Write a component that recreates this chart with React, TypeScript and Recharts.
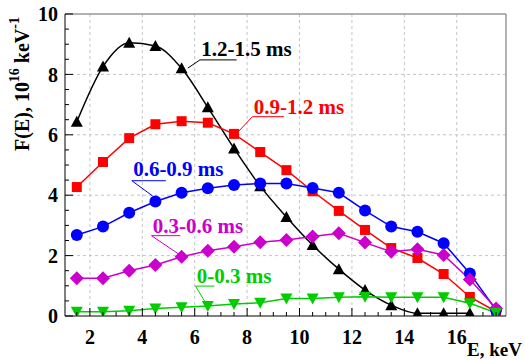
import React from "react"
import {
  LineChart,
  Line,
  XAxis,
  YAxis,
  CartesianGrid,
  ReferenceLine,
  ReferenceDot,
} from "recharts"

// energy bins, keV
const E = [1.5, 2.5, 3.5, 4.5, 5.5, 6.5, 7.5, 8.5, 9.5, 10.5, 11.5, 12.5, 13.5, 14.5, 15.5, 16.5, 17.5]

// F(E), 10^16 keV^-1, one array per time window
const t12_15 = [6.43, 8.26, 9.05, 8.94, 8.2, 6.91, 5.55, 4.3, 3.28, 2.35, 1.55, 0.86, 0.36, 0.09, 0.09, 0.09, null]
const t09_12 = [4.27, 5.1, 5.89, 6.35, 6.45, 6.4, 6.03, 5.43, 4.83, 4.13, 3.48, 2.85, 2.25, 1.92, 1.39, 0.63, 0.15]
const t06_09 = [2.68, 2.96, 3.42, 3.79, 4.08, 4.23, 4.34, 4.39, 4.39, 4.24, 4.08, 3.49, 2.96, 2.79, 2.41, 1.41, 0.2]
const t03_06 = [1.25, 1.25, 1.5, 1.69, 1.96, 2.16, 2.29, 2.44, 2.52, 2.63, 2.74, 2.43, 2.13, 2.21, 2.02, 1.21, 0.25]
const t00_03 = [0.14, 0.14, 0.17, 0.25, 0.29, 0.33, 0.4, 0.44, 0.58, 0.58, 0.62, 0.64, 0.62, 0.62, 0.62, 0.42, 0.11]

const X_TICKS = [2, 4, 6, 8, 10, 12, 14, 16]
const X_ALL = [1.5, 2, 2.5, 3, 3.5, 4, 4.5, 5, 5.5, 6, 6.5, 7, 7.5, 8, 8.5, 9, 9.5, 10, 10.5, 11, 11.5, 12, 12.5, 13, 13.5, 14, 14.5, 15, 15.5, 16, 16.5, 17, 17.5]
const Y_TICKS = [0, 2, 4, 6, 8, 10]
const Y_ALL = [0, 0.5, 1, 1.5, 2, 2.5, 3, 3.5, 4, 4.5, 5, 5.5, 6, 6.5, 7, 7.5, 8, 8.5, 9, 9.5, 10]

const X_DOMAIN = [1.05, 17.88]
const FONT = "Liberation Serif, Times New Roman, DejaVu Serif, serif"

const SERIES = [
  { key: "a", label: "1.2-1.5 ms", values: t12_15, color: "#000000", shape: "up", curve: "monotone" },
  { key: "b", label: "0.9-1.2 ms", values: t09_12, color: "#ff0000", shape: "square", curve: "linear" },
  { key: "c", label: "0.6-0.9 ms", values: t06_09, color: "#0000ff", shape: "circle", curve: "linear" },
  { key: "d", label: "0.3-0.6 ms", values: t03_06, color: "#cc00cc", shape: "diamond", curve: "linear" },
  { key: "e", label: "0-0.3 ms", values: t00_03, color: "#00cc00", shape: "down", curve: "linear" },
]

// label anchors in data units: text start, underline span, leader tip
const NOTES = [
  { key: "a", x: 6.25, y: 8.6, ulTo: 7.6, ulY: 8.48, tipX: 5.74, tipY: 8.21 },
  { key: "b", x: 8.25, y: 6.7, ulTo: 9.4, ulY: 6.6, tipX: 7.62, tipY: 6.06 },
  { key: "c", x: 3.65, y: 4.62, ulTo: 4.9, ulY: 4.48, tipX: 4.4, tipY: 3.97 },
  { key: "d", x: 4.4, y: 2.76, ulTo: 5.45, ulY: 2.66, tipX: 5.44, tipY: 2.02 },
  { key: "e", x: 6.08, y: 1.09, ulTo: 6.75, ulY: 0.99, tipX: 6.47, tipY: 0.36 },
]

const data = E.map((e, i) => {
  const row: Record<string, number | null> = { E: e }
  SERIES.forEach((s) => {
    row[s.key] = s.values[i]
  })
  return row
})

function Marker({ cx, cy, shape, color }: any) {
  if (cx == null || cy == null) return null
  if (shape === "up") {
    return <path d={`M${cx},${cy - 6} L${cx + 6},${cy + 5} L${cx - 6},${cy + 5} Z`} fill={color} />
  }
  if (shape === "down") {
    return <path d={`M${cx},${cy + 6} L${cx + 6},${cy - 5} L${cx - 6},${cy - 5} Z`} fill={color} />
  }
  if (shape === "square") {
    return <rect x={cx - 5} y={cy - 5} width={10} height={10} fill={color} />
  }
  if (shape === "diamond") {
    return <path d={`M${cx},${cy - 7} L${cx + 7},${cy} L${cx},${cy + 7} L${cx - 7},${cy} Z`} fill={color} />
  }
  return <circle cx={cx} cy={cy} r={6} fill={color} />
}

const textStyle = { fontFamily: FONT, fontWeight: "bold", fontSize: 20 }

// x tick: label for majors, inward tick mark for all
function XTick({ x, y, payload }: any) {
  const v = payload.value
  const major = X_TICKS.includes(v)
  const axisY = y - 14
  return (
    <g>
      <line x1={x} x2={x} y1={axisY} y2={axisY - (major ? 8 : 4)} stroke="#000" strokeWidth={1} />
      {major && (
        <text x={x} y={y} dy="0.71em" textAnchor="middle" style={textStyle} fill="#000">
          {v}
        </text>
      )}
    </g>
  )
}

function YTick({ x, y, payload }: any) {
  const v = payload.value
  const major = Y_TICKS.includes(v)
  const axisX = x + 7
  return (
    <g>
      <line x1={axisX} x2={axisX + (major ? 8 : 4)} y1={y} y2={y} stroke="#000" strokeWidth={1} />
      {major && (
        <text x={x} y={y} dy="0.355em" textAnchor="end" style={textStyle} fill="#000">
          {v}
        </text>
      )}
    </g>
  )
}

function YLabel({ viewBox }: any) {
  const x = viewBox.x + 22
  const y = viewBox.y + 70
  return (
    <text
      x={x}
      y={y}
      transform={`rotate(-90 ${x} ${y})`}
      textAnchor="middle"
      dominantBaseline="central"
      style={textStyle}
      fill="#000"
    >
      F(E), 10<tspan dy={-8} fontSize={14}>16</tspan>
      <tspan dy={8}> keV</tspan>
      <tspan dy={-8} fontSize={14}>-1</tspan>
    </text>
  )
}

function XLabel({ viewBox }: any) {
  return (
    <text
      x={viewBox.x + viewBox.width + 16}
      y={viewBox.y + 40}
      textAnchor="end"
      style={{ ...textStyle, fontSize: 19 }}
      fill="#000"
    >
      E, keV
    </text>
  )
}

export default function App() {
  return (
    <div style={{ position: "absolute", left: 0, top: 0, width: 525, height: 360, background: "#fff" }}>
      <LineChart width={525} height={360} data={data} margin={{ top: 14, right: 19, bottom: 0, left: 0 }}>
        <CartesianGrid
          stroke="#c4c4c4"
          strokeDasharray="3 3"
          horizontalValues={[2, 4, 6, 8]}
          verticalValues={X_TICKS}
        />
        <XAxis
          dataKey="E"
          type="number"
          domain={X_DOMAIN}
          allowDataOverflow
          ticks={X_ALL}
          interval={0}
          tickLine={false}
          tickSize={0}
          tickMargin={14}
          height={44}
          axisLine={{ stroke: "#000" }}
          tick={<XTick />}
          label={<XLabel />}
        />
        <YAxis
          type="number"
          domain={[0, 10]}
          allowDataOverflow
          ticks={Y_ALL}
          interval={0}
          tickLine={false}
          tickSize={0}
          tickMargin={7}
          width={65}
          axisLine={{ stroke: "#000" }}
          tick={<YTick />}
          label={<YLabel />}
        />
        <ReferenceLine y={10} stroke="#999" strokeWidth={1.5} />
        <ReferenceLine x={X_DOMAIN[1]} stroke="#999" strokeWidth={1.5} />
        {SERIES.map((s) => (
          <Line
            key={s.key}
            dataKey={s.key}
            type={s.curve as any}
            stroke={s.color}
            strokeWidth={1.5}
            connectNulls={false}
            isAnimationActive={false}
            dot={(p: any) => <Marker key={`${s.key}-${p.index}`} cx={p.cx} cy={p.cy} shape={s.shape} color={s.color} />}
            activeDot={false}
          />
        ))}
        {NOTES.map((n) => {
          const s = SERIES.find((q) => q.key === n.key)!
          return (
            <React.Fragment key={n.key}>
              <ReferenceLine
                segment={[{ x: n.x - 0.05, y: n.ulY }, { x: n.ulTo, y: n.ulY }]}
                stroke={s.color}
                strokeWidth={1}
              />
              <ReferenceLine
                segment={[{ x: n.x - 0.05, y: n.ulY }, { x: n.tipX, y: n.tipY }]}
                stroke={s.color}
                strokeWidth={1}
              />
              <ReferenceDot
                x={n.x}
                y={n.y}
                r={0}
                shape={(p: any) => (
                  <text x={p.cx} y={p.cy} style={{ ...textStyle, fontSize: 21 }} fill={s.color}>
                    {s.label}
                  </text>
                )}
              />
            </React.Fragment>
          )
        })}
      </LineChart>
    </div>
  )
}
